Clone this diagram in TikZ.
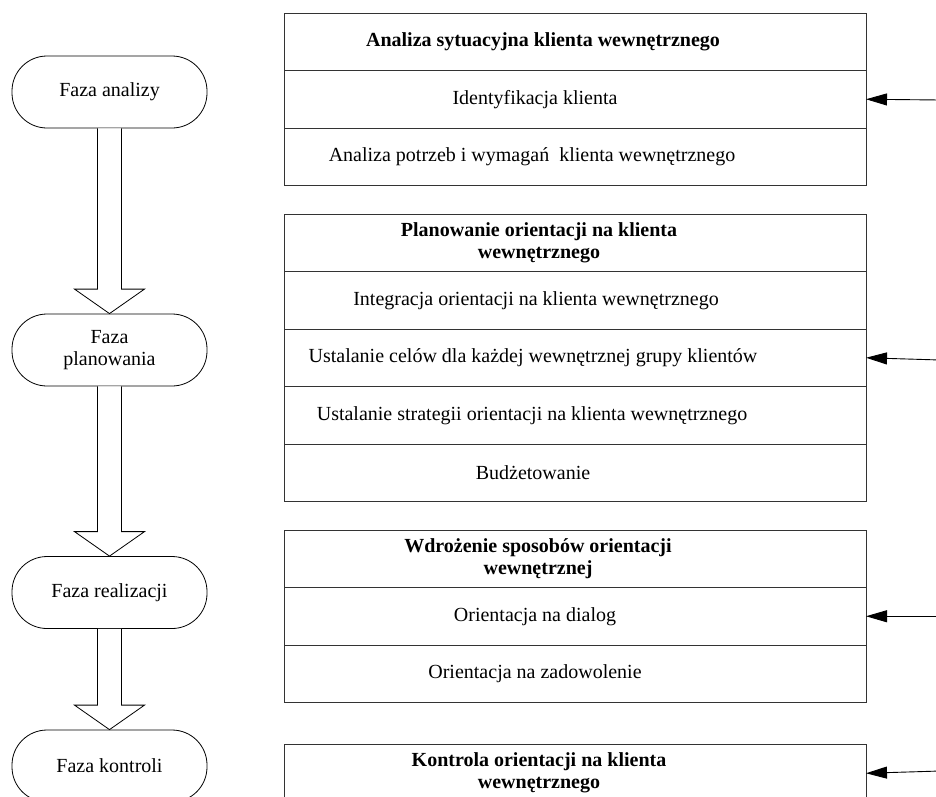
\documentclass[tikz,border=0pt]{standalone}
\usepackage{fontspec}
\setmainfont{Liberation Serif}
\usepackage{tikz}
\usetikzlibrary{positioning, calc, arrows.meta}

\begin{document}
\begin{tikzpicture}[x=1pt, y=-1pt, font={\fontsize{20pt}{22pt}\selectfont}]

% Defined styles
\tikzstyle{phase} = [rectangle, rounded corners=35pt, minimum width=195pt, minimum height=72pt, draw=black, line width=0.8pt, align=center]
\tikzstyle{row} = [rectangle, minimum width=582pt, minimum height=57.5pt, inner sep=0pt, outer sep=0pt, draw=black!80, line width=1pt]
\tikzstyle{rowtext} = [align=center, inner sep=0pt]
\tikzstyle{head} = [rowtext, font={\fontsize{20pt}{22pt}\selectfont\bfseries}]
\tikzstyle{flow} = [draw=black, line width=0.8pt, fill=white]
\tikzstyle{feed} = [line width=0.9pt, -{Triangle[length=21pt, width=12pt]}]

\useasboundingbox (0,0) rectangle (936,796);

% --- Phases (left column) ---
\node (fa) [phase] at (109.5,92) {Faza analizy};
\node (fp) [phase] at (109.5,350) {Faza\\planowania};
\node (fr) [phase] at (109.5,592.5) {Faza realizacji};
\node (fk) [phase] at (109.5,766) {Faza kontroli};

% --- Block arrows between phases ---
\foreach \a/\b in {fa/fp, fp/fr, fr/fk} {
  \draw [flow] ($(\a.south)+(-12,0)$) -- ($(\b.north)+(-12,-24.5)$) -- ($(\b.north)+(-35,-24.5)$)
    -- (\b.north) -- ($(\b.north)+(35,-24.5)$) -- ($(\b.north)+(12,-24.5)$) -- ($(\a.south)+(12,0)$);
}

% --- Box 1: analysis ---
\node (a1) [row] at (575,41.75) {};
\node (a2) [row, below=0pt of a1] {};
\node (a3) [row, below=0pt of a2] {};
\node (a1t) [head] at ([xshift=-32pt]a1.center) {Analiza sytuacyjna klienta wewnętrznego};
\node (a2t) [rowtext] at ([xshift=-40pt]a2.center) {Identyfikacja klienta};
\node (a3t) [rowtext] at ([xshift=-43pt]a3.center) {Analiza potrzeb i wymagań \ klienta wewnętrznego};

% --- Box 2: planning ---
\node (b1) [row] at (575,242.75) {};
\node (b2) [row, below=0pt of b1] {};
\node (b3) [row, below=0pt of b2] {};
\node (b4) [row, below=0pt of b3] {};
\node (b5) [row, below=0pt of b4] {};
\node (b1t) [head] at ([xshift=-36pt]b1.center) {Planowanie orientacji na klienta\\wewnętrznego};
\node (b2t) [rowtext] at ([xshift=-39pt]b2.center) {Integracja orientacji na klienta wewnętrznego};
\node (b3t) [rowtext] at ([xshift=-42pt]b3.center) {Ustalanie celów dla każdej wewnętrznej grupy klientów};
\node (b4t) [rowtext] at ([xshift=-43pt]b4.center) {Ustalanie strategii orientacji na klienta wewnętrznego};
\node (b5t) [rowtext] at ([xshift=-42pt]b5.center) {Budżetowanie};

% --- Box 3: realisation ---
\node (c1) [row] at (575,558.75) {};
\node (c2) [row, below=0pt of c1] {};
\node (c3) [row, below=0pt of c2] {};
\node (c1t) [head] at ([xshift=-37pt]c1.center) {Wdrożenie sposobów orientacji\\wewnętrznej};
\node (c2t) [rowtext] at ([xshift=-40pt]c2.center) {Orientacja na dialog};
\node (c3t) [rowtext] at ([xshift=-40pt]c3.center) {Orientacja na zadowolenie};

% --- Box 4: control (runs off the page) ---
\node (d1) [row] at (575,773.25) {};
\node (d1t) [head] at ([xshift=-36pt]d1.center) {Kontrola orientacji na klienta\\wewnętrznego};

% --- Incoming arrows from the right ---
\coordinate (inA) at (940,100);
\coordinate (inB) at (940,360);
\coordinate (inC) at (940,616.25);
\coordinate (inD) at (940,771);
\draw [feed] (inA) -- (a2.east);
\draw [feed] (inB) -- (b3.east);
\draw [feed] (inC) -- (c2.east);
\draw [feed] (inD) -- (d1.east);

\end{tikzpicture}
\end{document}
